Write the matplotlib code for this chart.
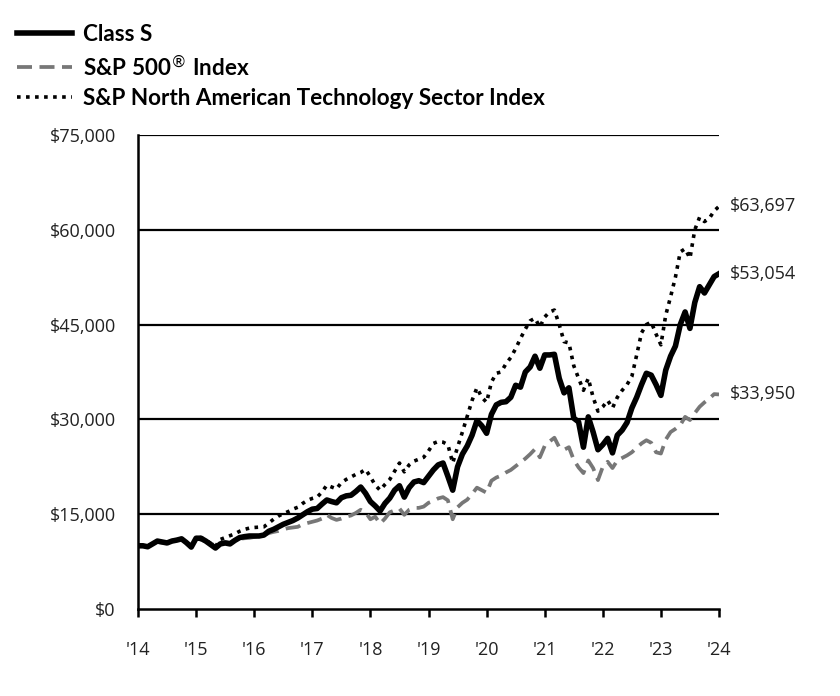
import matplotlib
matplotlib.use("Agg")
import matplotlib.pyplot as plt
from matplotlib.lines import Line2D

# ---- data (monthly) ----
year_labels = ["'14", "'15", "'16", "'17", "'18", "'19", "'20", "'21", "'22", "'23", "'24"]

class_s = [10000, 10000, 9850, 10300, 10750, 10600, 10450, 10750, 10900, 11100,
           10500, 9800, 11200, 11200, 10750, 10200, 9650, 10300, 10450, 10300,
           10850, 11300, 11450, 11550, 11550, 11550, 11700, 12300, 12600, 13000,
           13400, 13700, 14000, 14400, 14900, 15400, 15800, 15900, 16600, 17250,
           17000, 16800, 17600, 17900, 18000, 18600, 19300, 18300, 17000, 16300,
           15500, 16700, 17550, 18800, 19500, 17700, 19200, 20100, 20300, 20000,
           21000, 22000, 22800, 23100, 21000, 18800, 22500, 24500, 25800, 27500,
           29800, 29000, 27800, 30800, 32300, 32700, 32800, 33500, 35400, 35100,
           37500, 38300, 40000, 38100, 40200, 40200, 40300, 36500, 34200, 35000,
           30200, 29600, 25600, 30400, 28000, 25200, 26000, 27000, 24700, 27500,
           28300, 29500, 31800, 33500, 35500, 37300, 37000, 35500, 33800, 37800,
           40000, 41600, 45000, 47000, 44400, 48500, 51000, 50000, 51300, 52600,
           53054]

sp500 = [10000, 10050, 9900, 10350, 10600, 10500, 10450, 10700, 10850, 10950,
         10550, 10000, 10900, 10950, 10700, 10300, 10100, 10500, 10600, 10500,
         10900, 11100, 11200, 11250, 11400, 11600, 11700, 12000, 12200, 12350,
         12600, 12800, 12900, 13000, 13400, 13600, 13800, 14000, 14300, 14900,
         14400, 14100, 14300, 14600, 14800, 15200, 15700, 15300, 14200, 14600,
         13500, 14300, 15300, 15600, 15900, 14900, 15700, 16000, 16000, 16200,
         16800, 17100, 17500, 17700, 17200, 14200, 16100, 16800, 17300, 18200,
         19200, 18800, 18400, 20300, 20800, 21100, 21600, 22000, 22600, 23200,
         23800, 24500, 25300, 24000, 25800, 26500, 27100, 25600, 25200, 25600,
         23600, 22400, 21500, 23500, 22300, 20400, 22500, 23300, 22300, 23500,
         23900, 24300, 24800, 25500, 26200, 26700, 26300, 24800, 24600, 26800,
         28000, 28500, 29100, 30400, 29900, 31000, 32000, 32700, 33300, 34000,
         33950]

tech = [10000, 10050, 9900, 10350, 10800, 10700, 10500, 10800, 10950, 11150,
        10600, 9900, 11300, 11300, 10900, 10400, 9900, 11000, 11300, 11600,
        11900, 12300, 12600, 12800, 12900, 12950, 13000, 13600, 14200, 14700,
        15100, 15400, 15800, 16100, 16700, 17200, 17500, 17700, 18500, 19600,
        19300, 19000, 20000, 20500, 20900, 21300, 21600, 22100, 20900, 19600,
        18800, 19700, 20500, 21800, 23100, 21700, 22800, 23400, 23700, 24000,
        25000, 26200, 26500, 26400, 26000, 23100, 25600, 28000, 30500, 33000,
        35000, 33500, 32700, 35900, 37300, 37500, 38800, 39800, 41200, 42800,
        44300, 45600, 46000, 44600, 46200, 47000, 47300, 45000, 42300, 42100,
        38500, 36500, 34600, 36500, 33500, 31300, 32000, 33000, 31800, 33500,
        34600, 35500, 36800, 40200, 43700, 45000, 45400, 43500, 41800, 46500,
        49400, 52500, 56500, 57000, 55500, 60000, 62000, 61300, 61800, 63000,
        63697]

series_names = ["Class S", "S&P 500$^{\\circledR}$ Index", "S&P North American Technology Sector Index"]
end_labels = ["$53,054", "$33,950", "$63,697"]

# ---- styling ----
plt.rcParams['font.family'] = ['Open Sans', 'DejaVu Sans']
fig = plt.figure(figsize=(8.4, 6.96), dpi=100)
ax = fig.add_axes([138/840, 1 - 609/696, (719 - 138)/840, (609 - 135)/696])

months = list(range(len(class_s)))

gray = "#777777"
dash = (0, (4, 2))
dots = (0, (1, 1.5))
ax.plot(months, sp500, color=gray, lw=2.7, ls=dash, zorder=3)
ax.plot(months, tech, color="black", lw=2.6, ls=dots, zorder=4)
ax.plot(months, class_s, color="black", lw=4.0, zorder=5)

ax.set_xlim(0, 120)
ax.set_ylim(0, 75000)
yt = [0, 15000, 30000, 45000, 60000, 75000]
ax.set_yticks(yt)
ax.set_yticklabels([f"${v:,.0f}" for v in yt], fontsize=13, color="#222222")
ax.set_xticks(range(0, 121, 12))
ax.set_xticklabels(year_labels, fontsize=13, color="#222222")
ax.tick_params(axis='y', length=0, pad=16)
ax.tick_params(axis='x', length=6, width=1.8, direction='out', pad=17, color='black')

for v in yt[1:]:
    ax.axhline(v, color='black', lw=1.6, zorder=1)
for s in ['top', 'right']:
    ax.spines[s].set_visible(False)
ax.spines['left'].set_linewidth(1.8)
ax.spines['bottom'].set_linewidth(1.8)

# end labels
for vals, lab in zip([class_s, sp500, tech], end_labels):
    ax.annotate(lab, xy=(120, vals[-1]), xytext=(7.5, 0), textcoords='offset points',
                va='center', ha='left', fontsize=13, color="#222222", annotation_clip=False)

handles = [Line2D([], [], color='black', lw=4.0),
           Line2D([], [], color=gray, lw=2.7, ls=dash),
           Line2D([], [], color='black', lw=2.6, ls=dots)]
leg = fig.legend(handles, series_names, loc='upper left', bbox_to_anchor=(0.0, 0.99),
                 frameon=False, handlelength=2.45, handletextpad=0.5, labelspacing=0.38,
                 borderaxespad=0.0, borderpad=0.75,
                 prop={'family': ['Lato', 'DejaVu Sans'], 'weight': 'bold', 'size': 16.2})

fig.savefig("out.png", dpi=100)
